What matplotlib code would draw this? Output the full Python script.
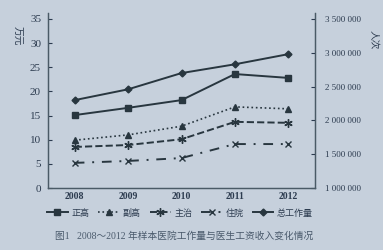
import matplotlib
matplotlib.use("Agg")
import matplotlib.pyplot as plt
from matplotlib.ticker import FuncFormatter

plt.rcParams["font.family"] = ["Liberation Serif", "Noto Sans CJK SC"]

# data
years = ["2008", "2009", "2010", "2011", "2012"]
zhenggao = [15.1, 16.6, 18.2, 23.6, 22.8]   # 正高, 万元
fugao = [9.9, 11.0, 12.8, 16.8, 16.4]       # 副高
zhuzhi = [8.5, 8.9, 10.1, 13.7, 13.5]       # 主治
zhuyuan = [5.2, 5.6, 6.2, 9.1, 9.1]         # 住院
workload = [2300000, 2460000, 2700000, 2830000, 2980000]  # 总工作量, 人次

left_ticks = [0, 5, 10, 15, 20, 25, 30, 35]
right_ticks = [1000000, 1500000, 2000000, 2500000, 3000000, 3500000]

BG = "#c6d0dc"
INK = "#28363f"
TXT = "#2c3b4f"

fig = plt.figure(figsize=(3.83, 2.5), dpi=100, facecolor=BG)
ax = fig.add_axes([48 / 383, 1 - 188 / 250, (315 - 48) / 383, (188 - 13) / 250])
ax.set_facecolor(BG)
ax2 = ax.twinx()

x = list(range(len(years)))
ax.plot(x, zhenggao, color=INK, lw=1.4, marker="s", ms=4.5, label="正高")
ax.plot(x, fugao, color=INK, lw=1.2, ls=":", marker="^", ms=4.5, label="副高")
ax.plot(x, zhuzhi, color=INK, lw=1.4, ls="--", marker=(6, 2, 0), ms=6, label="主治")
ax.plot(x, zhuyuan, color=INK, lw=1.4, ls=(0, (5, 4, 1, 4)), marker="x", ms=4.5, label="住院")
ax2.plot(x, workload, color=INK, lw=1.4, marker="D", ms=3.5, label="总工作量")

top = 35 + 6 / (169 / 35)
ax.set_ylim(0, top)
ax2.set_ylim(1000000, 1000000 + 2500000 * top / 35)
ax.set_xlim(-0.5, 4.5)
ax.set_xticks(x)
ax.set_xticklabels(years, fontsize=7, fontweight="bold", color=TXT)
ax.set_yticks(left_ticks)
ax2.set_yticks(right_ticks)
ax2.yaxis.set_major_formatter(FuncFormatter(lambda v, p: f"{int(v):,}".replace(",", " ")))

ax.tick_params(axis="y", labelsize=8, colors=TXT, direction="in", length=3, pad=5)
ax.tick_params(axis="x", length=0, pad=3)
ax2.tick_params(axis="y", labelsize=6.5, colors=TXT, direction="in", length=3, pad=7)

for a in (ax, ax2):
    a.spines["top"].set_visible(False)
    for s in ("left", "right", "bottom"):
        a.spines[s].set_color("#4a5a66")
        a.spines[s].set_linewidth(0.9)

fig.text(17 / 383, 1 - 36 / 250, "万元", rotation=270, fontsize=7, color=TXT,
         ha="center", va="center")
fig.text(373 / 383, 1 - 40 / 250, "人次", rotation=270, fontsize=7, color=TXT,
         ha="center", va="center")

h1, l1 = ax.get_legend_handles_labels()
h2, l2 = ax2.get_legend_handles_labels()
fig.legend(h1 + h2, l1 + l2, loc="center", bbox_to_anchor=(0.47, 1 - 213 / 250),
           ncol=5, frameon=False, fontsize=6.5, handlelength=2.3, columnspacing=1.0,
           handletextpad=0.4, labelcolor=TXT)

fig.text(0.48, 1 - 236 / 250, "图1   2008～2012 年样本医院工作量与医生工资收入变化情况",
         ha="center", va="center", fontsize=7, color="#4a5a6c")

fig.savefig("out.png", dpi=100, facecolor=BG)
